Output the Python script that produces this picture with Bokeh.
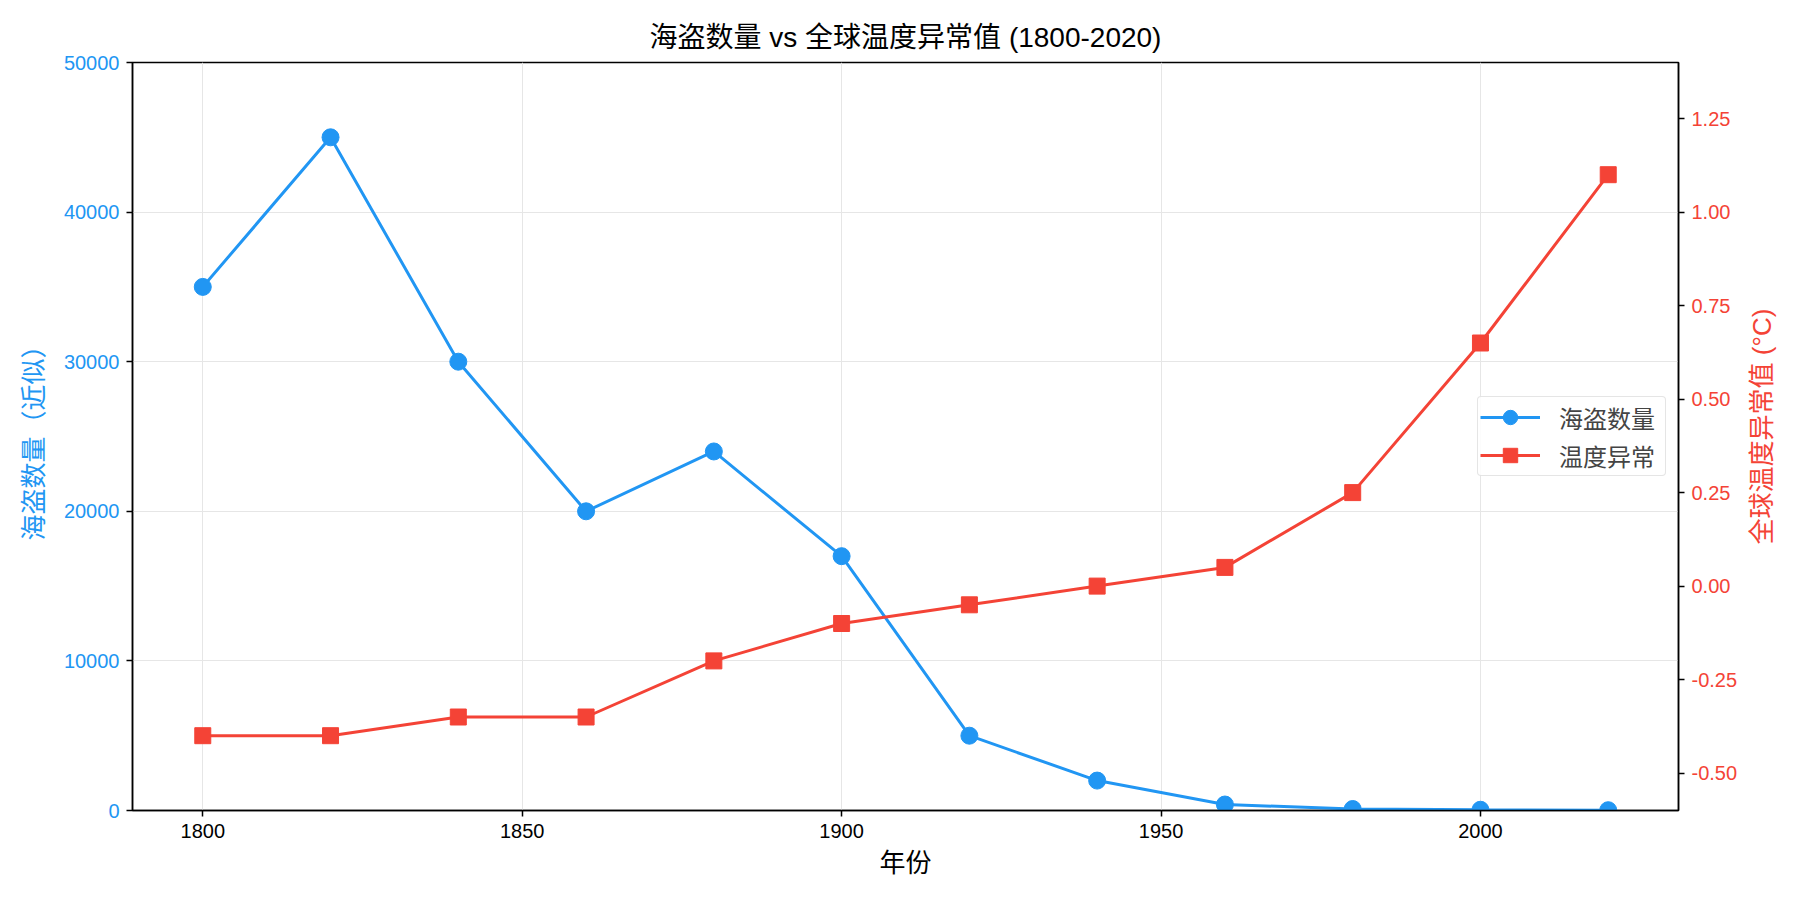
import math
from bokeh.plotting import figure
from bokeh.layouts import row
from bokeh.models import (Range1d, LinearAxis, FixedTicker, NumeralTickFormatter,
                          BasicTickFormatter, Legend)
from bokeh.core.properties import value
from bokeh.embed import file_html
from bokeh.resources import INLINE

# Data
years = [1800, 1820, 1840, 1860, 1880, 1900, 1920, 1940, 1960, 1980, 2000, 2020]
pirates = [35000, 45000, 30000, 20000, 24000, 17000, 5000, 2000, 400, 100, 50, 20]
temp_anomaly = [-0.40, -0.40, -0.35, -0.35, -0.20, -0.10, -0.05, 0.00, 0.05, 0.25, 0.65, 1.10]

x_ticks = [1800, 1850, 1900, 1950, 2000]
left_ticks = [0, 10000, 20000, 30000, 40000, 50000]
right_ticks = [-0.50, -0.25, 0.00, 0.25, 0.50, 0.75, 1.00, 1.25]

BLUE = "#2196F3"
RED = "#F44336"
FONT = "Liberation Sans, Noto Sans CJK SC"

p = figure(width=1740, height=900, output_backend="svg", toolbar_location=None,
           x_range=Range1d(1789, 2031), y_range=Range1d(0, 50000),
           min_border_left=132, min_border_right=61, min_border_top=62,
           min_border_bottom=90, title="海盗数量 vs 全球温度异常值 (1800-2020)")
p.extra_y_ranges = {"temp": Range1d(-0.6, 1.4)}

p.title.align = "center"
p.title.text_font = FONT
p.title.text_font_size = "28px"
p.title.text_font_style = "normal"
p.title.text_color = "black"
p.title.offset = 0
p.title.standoff = 20

p.outline_line_color = "black"
p.outline_line_width = 1.5
p.outline_line_alpha = 1.0

# grid
for g in (p.xgrid, p.ygrid):
    g.grid_line_color = "#e6e6e6"
    g.grid_line_width = 1

def style_axis(ax, color):
    ax.axis_line_color = "black"
    ax.axis_line_width = 1.5
    ax.major_tick_line_color = "black"
    ax.major_tick_line_width = 1.5
    ax.major_tick_out = 6
    ax.major_tick_in = 0
    ax.minor_tick_line_color = None
    ax.major_label_text_font = FONT
    ax.major_label_text_font_size = "20px"
    ax.major_label_text_color = color
    ax.major_label_standoff = 7
    ax.axis_label_text_font = FONT
    ax.axis_label_text_font_size = "26px"
    ax.axis_label_text_font_style = "normal"
    ax.axis_label_text_color = color

xax = p.xaxis[0]
style_axis(xax, "black")
xax.ticker = FixedTicker(ticks=x_ticks)
xax.axis_label = "年份"
xax.axis_label_standoff = 7

yax = p.yaxis[0]
style_axis(yax, BLUE)
yax.ticker = FixedTicker(ticks=left_ticks)
yax.formatter = BasicTickFormatter(use_scientific=False)
yax.axis_label = "海盗数量（近似）"
yax.axis_label_standoff = 12

rax = LinearAxis(y_range_name="temp")
style_axis(rax, RED)
rax.ticker = FixedTicker(ticks=right_ticks)
rax.formatter = NumeralTickFormatter(format="0.00")
p.add_layout(rax, "right")

# pirate series
l1 = p.line(years, pirates, line_color=BLUE, line_width=3)
s1 = p.scatter(years, pirates, marker="circle", size=17, fill_color=BLUE, line_color=BLUE)

# temperature series
l2 = p.line(years, temp_anomaly, line_color=RED, line_width=3, y_range_name="temp")
s2 = p.scatter(years, temp_anomaly, marker="square", size=16, fill_color=RED, line_color=RED,
               y_range_name="temp")

legend = Legend(items=[("海盗数量", [l1, s1]), ("温度异常", [l2, s2])],
                location=(1345, 334))
legend.label_text_font = FONT
legend.label_text_font_size = "24px"
legend.border_line_color = "#cccccc"
legend.border_line_width = 1.2
legend.border_radius = 4
legend.background_fill_alpha = 0.85
legend.glyph_width = 60
legend.glyph_height = 36
legend.label_width = 104
legend.label_standoff = 19
legend.spacing = 2
legend.padding = 2
legend.margin = 0
p.add_layout(legend)

# narrow strip holding the right-hand axis title, read bottom to top
side = figure(width=60, height=900, output_backend="svg", toolbar_location=None,
              x_range=Range1d(0, 60), y_range=Range1d(0, 900),
              x_axis_type=None, y_axis_type=None,
              min_border_left=0, min_border_right=0, min_border_top=0, min_border_bottom=0)
side.outline_line_color = None
side.xgrid.visible = False
side.ygrid.visible = False
side.text(x=[21], y=[462], text=["全球温度异常值 (°C)"], angle=math.pi / 2,
          text_align="center", text_baseline="middle",
          text_font=value(FONT), text_font_size="26px", text_color=RED)

layout = row(p, side, spacing=0)
open("out.html", "w").write(file_html(layout, INLINE))
